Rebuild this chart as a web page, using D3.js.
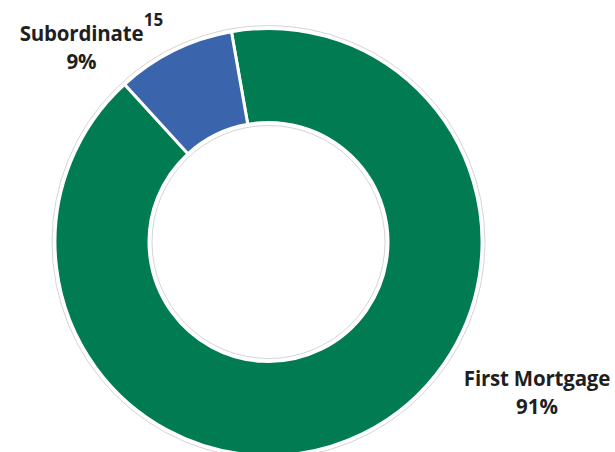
<!DOCTYPE html>
<html>
<head>
<meta charset="utf-8">
<script src="https://cdn.jsdelivr.net/npm/d3@7"></script>
<style>
html,body{margin:0;padding:0;background:#fff;}
svg{display:block;}
text{font-family:"Open Sans",sans-serif;font-weight:700;fill:#1f1f1f;}
</style>
</head>
<body>
<svg id="chart" width="615" height="452"></svg>
<script>
const categories = ["First Mortgage", "Subordinate"];
const values = [91, 9];
const percentLabels = ["91%", "9%"];
const footnotes = ["", "15"];
const colors = ["#017b51", "#3a65ad"];

const W = 615, H = 452;
const cx = 268.5, cy = 242, R = 213.5, r = 119.5;
const startDeg = -10;

const svg = d3.select("#chart");
const g = svg.append("g").attr("transform", `translate(${cx},${cy})`);

const pie = d3.pie().sort(null).value(d => d.v)
  .startAngle(startDeg * Math.PI / 180)
  .endAngle(startDeg * Math.PI / 180 + 2 * Math.PI);
const arc = d3.arc().innerRadius(r).outerRadius(R);
const data = categories.map((c, i) => ({c, v: values[i], i}));

// faint outline rings
g.append("circle").attr("r", R + 3).attr("fill", "none").attr("stroke", "#cfcfcf").attr("stroke-width", 0.9);
g.append("circle").attr("r", r - 3).attr("fill", "none").attr("stroke", "#cfcfcf").attr("stroke-width", 0.9);

g.selectAll("path.slice").data(pie(data)).join("path")
  .attr("class", "slice")
  .attr("d", arc)
  .attr("fill", d => colors[d.data.i])
  .attr("stroke", "#fff")
  .attr("stroke-width", 3)
  .attr("stroke-linejoin", "miter");

// labels
const labelPos = [
  {x: 537, y: 385.7},
  {x: 81.5, y: 40.7}
];
const fs = 20.5, lh = 28;
data.forEach((d, i) => {
  const p = labelPos[i];
  const t = svg.append("text").attr("x", p.x).attr("y", p.y)
    .attr("text-anchor", "middle").attr("font-size", fs)
    .attr("letter-spacing", -0.2).text(d.c);
  svg.append("text").attr("x", p.x).attr("y", p.y + lh)
    .attr("text-anchor", "middle").attr("font-size", fs).text(percentLabels[i]);
  if (footnotes[i]) {
    const len = t.node().getComputedTextLength();
    svg.append("text").attr("x", p.x + len / 2 + 0.5).attr("y", p.y - 14.5)
      .attr("font-size", 17).text(footnotes[i]);
  }
});
</script>
</body>
</html>
